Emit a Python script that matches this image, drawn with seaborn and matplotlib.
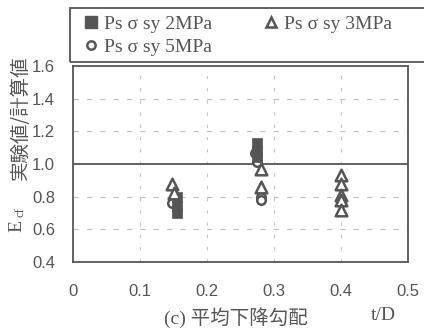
import matplotlib
matplotlib.use("Agg")
import matplotlib.pyplot as plt
import seaborn as sns
import pandas as pd
from matplotlib.lines import Line2D
from matplotlib.patches import Rectangle

sns.set_style("white")
plt.rcParams['font.family'] = ['Liberation Sans', 'Noto Sans CJK JP']

# data
x_2mpa = [0.155, 0.155, 0.155, 0.275, 0.275, 0.275]
y_2mpa = [0.80, 0.74, 0.70, 1.13, 1.08, 1.04]
x_3mpa = [0.148, 0.150, 0.280, 0.280, 0.400, 0.400, 0.400, 0.400, 0.400]
y_3mpa = [0.88, 0.82, 0.97, 0.86, 0.93, 0.88, 0.81, 0.78, 0.72]
x_5mpa = [0.148, 0.272, 0.275, 0.280, 0.280]
y_5mpa = [0.76, 1.07, 1.01, 0.80, 0.78]
labels = ["Ps \u03c3 sy 2MPa", "Ps \u03c3 sy 3MPa", "Ps \u03c3 sy 5MPa"]
x_ticks = [0, 0.1, 0.2, 0.3, 0.4, 0.5]
y_ticks = [0.4, 0.6, 0.8, 1.0, 1.2, 1.4, 1.6]

mark = "#555555"
txt = "#555555"

fig = plt.figure(figsize=(4.24, 3.31), dpi=100)
ax = fig.add_axes([73/424, 1-262/331, (408-73)/424, (262-66)/331])

df5 = pd.DataFrame({"x": x_5mpa, "y": y_5mpa})
df2 = pd.DataFrame({"x": x_2mpa, "y": y_2mpa})
df3 = pd.DataFrame({"x": x_3mpa, "y": y_3mpa})

sns.scatterplot(data=df5, x="x", y="y", ax=ax, marker="o", s=38,
                facecolor="white", edgecolor=mark, linewidth=1.8, zorder=3)
sns.scatterplot(data=df2, x="x", y="y", ax=ax, marker="s", s=60,
                color=mark, edgecolor=mark, linewidth=0.5, zorder=4)
sns.scatterplot(data=df3, x="x", y="y", ax=ax, marker="^", s=70,
                facecolor="white", edgecolor=mark, linewidth=1.8, zorder=5)

ax.set_xlim(0, 0.5)
ax.set_ylim(0.4, 1.6)
ax.set_xticks(x_ticks)
ax.set_yticks(y_ticks)
ax.set_xticklabels(["0", "0.1", "0.2", "0.3", "0.4", "0.5"])
ax.set_yticklabels([f"{v:.1f}" for v in y_ticks])
ax.tick_params(axis="both", length=0, labelsize=12, colors=txt)
ax.tick_params(axis="x", pad=16)
ax.tick_params(axis="y", pad=13)

for v in x_ticks[1:-1]:
    ax.axvline(v, color="#c4c4c4", lw=0.8, ls=(0, (3, 8)), zorder=1)
for v in [0.6, 0.8, 1.2, 1.4]:
    ax.axhline(v, color="#c4c4c4", lw=0.8, ls=(0, (5, 7)), zorder=1)
ax.axhline(1.0, color="#555555", lw=1.3, zorder=2)

for s in ax.spines.values():
    s.set_color("#555555")
    s.set_linewidth(1.3)
ax.set_xlabel("")
ax.set_ylabel("")

serif = ['Liberation Serif', 'DejaVu Serif']
handles = [
    Line2D([], [], marker="s", ls="", color=mark, markersize=8),
    Line2D([], [], marker="o", ls="", markerfacecolor="white", markeredgecolor=mark, markeredgewidth=1.8, markersize=6),
    Line2D([], [], marker="^", ls="", markerfacecolor="white", markeredgecolor=mark, markeredgewidth=1.8, markersize=7),
]
leg_labels = [labels[0], labels[2], labels[1]]
leg = fig.legend(handles, leg_labels, ncol=2, loc="upper left",
                 bbox_to_anchor=(83/424, 1-15/331), frameon=False,
                 handlelength=0.8, handletextpad=0.3, columnspacing=2.6,
                 borderpad=0.0, labelspacing=0.3, borderaxespad=0,
                 prop={"family": serif, "size": 14})
for t in leg.get_texts():
    t.set_color(txt)
fig.patches.append(Rectangle((70/424, 1-62/331), 370/424, 54/331,
                             transform=fig.transFigure, fill=False,
                             edgecolor="#555555", linewidth=1.3))

fig.text(20/424, 1-118/331, "実験値/計算値", rotation=90, ha="center", va="center",
         fontsize=14, color=txt, family=['Noto Sans CJK JP'])
fig.text(17/424, 1-226/331, "E", rotation=90, ha="center", va="center",
         fontsize=14, color=txt, family=serif)
fig.text(21/424, 1-212/331, "cf", rotation=90, ha="center", va="center",
         fontsize=9, color=txt, family=serif)
fig.text(236/424, 1-318/331, "(c) 平均下降勾配", ha="center", va="center",
         fontsize=14, color=txt, family=['Liberation Serif', 'Noto Sans CJK JP'])
fig.text(383/424, 1-316/331, "t/D", ha="center", va="center",
         fontsize=14, color=txt, family=serif)

fig.savefig("out.png", dpi=100)
